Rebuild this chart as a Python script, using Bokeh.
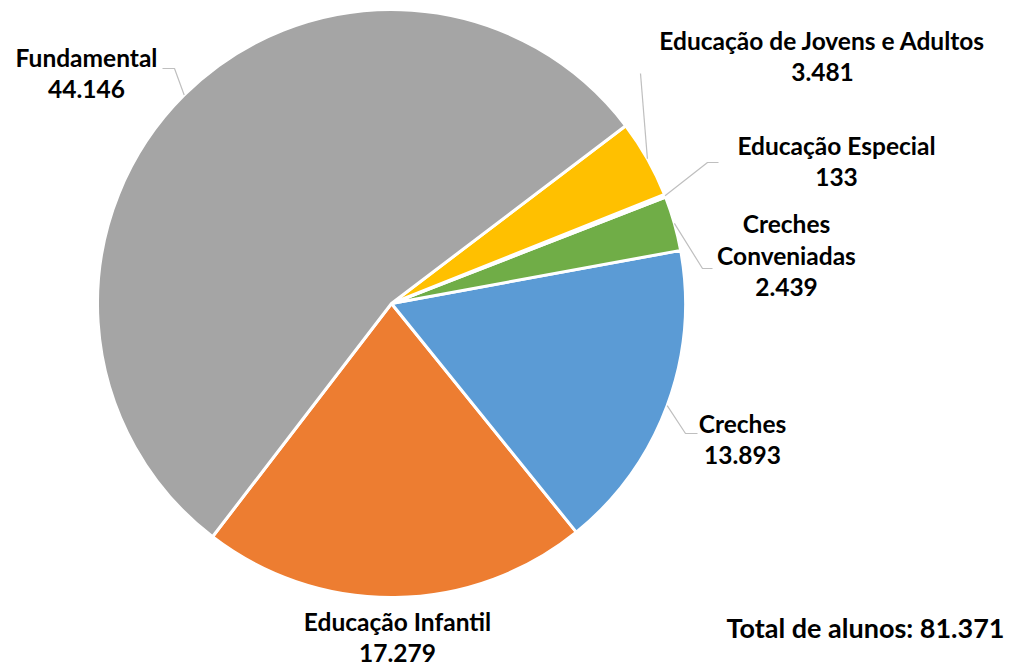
import math
from bokeh.plotting import figure
from bokeh.models import Range1d, ColumnDataSource
from bokeh.core.properties import value
from bokeh.embed import file_html
from bokeh.resources import INLINE

# ---- data ----
categories = ["Educação Infantil", "Creches", "Creches Conveniadas",
              "Educação Especial", "Educação de Jovens e Adultos", "Fundamental"]
values = [17279, 13893, 2439, 133, 3481, 44146]
label_lines = [["Educação Infantil"], ["Creches"], ["Creches", "Conveniadas"],
               ["Educação Especial"], ["Educação de Jovens e Adultos"], ["Fundamental"]]
colors = ["#ED7D31", "#5B9BD5", "#70AD47", "#4472C4", "#FFC000", "#A5A5A5"]
total_prefix = "Total de alunos: "

def fmt(v):
    return f"{v:,}".replace(",", ".")

# ---- layout (screen pixels of the page) ----
W, H = 1008, 668
def Y(ys):
    return 671 - ys

CX, CY, R = 391, 303, 294
START_DEG = 232.5
FONT = value("Lato")
FS, TS = 24.5, 27
LINE_GAP = 31.5
BASE_FIX = 0.4  # baseline correction (fraction of font size)

# label anchors: (center x, first baseline y)
label_pos = [(397, 631), (742, 433), (786, 233), (836, 155), (822, 50), (86, 67)]
# leader lines: list of points before reaching the pie edge (None = no leader)
leaders = [None,
           [(697, 433), (685, 433)],
           [(712, 268), (702, 268)],
           [(718, 162), (707, 162)],
           [(640, 73)],
           [(162, 68), (174, 68)]]

total = sum(values)
starts, ends, mids = [], [], []
acc = math.radians(START_DEG)
for v in values:
    a = 2 * math.pi * v / total
    starts.append(acc)
    ends.append(acc + a)
    mids.append(acc + a / 2)
    acc += a

p = figure(width=W, height=H, x_range=Range1d(0, W), y_range=Range1d(671 - H, 671),
           output_backend="svg", toolbar_location=None,
           x_axis_type=None, y_axis_type=None, min_border=0)
p.grid.visible = False
p.outline_line_color = None
p.background_fill_color = "white"
p.border_fill_color = "white"

src = ColumnDataSource(dict(cat=categories, val=values, start=starts, end=ends, color=colors))
p.wedge(x=CX, y=Y(CY), radius=R, start_angle="start", end_angle="end",
        direction="anticlock", fill_color="color", line_color="white", line_width=3,
        source=src)

# leader lines
lx, ly = [], []
for pts, m in zip(leaders, mids):
    if pts is None:
        continue
    ex = CX + R * math.cos(m)
    ey = Y(CY) + R * math.sin(m)
    lx.append([x for x, _ in pts] + [ex])
    ly.append([Y(y) for _, y in pts] + [ey])
p.multi_line(xs=lx, ys=ly, line_color="#BFBFBF", line_width=1.2)

# labels
tx, ty, tt = [], [], []
for (x0, y0), lines, v in zip(label_pos, label_lines, values):
    allines = lines + [fmt(v)]
    for i, t in enumerate(allines):
        tx.append(x0)
        ty.append(Y(y0 + i * LINE_GAP - BASE_FIX * FS))
        tt.append(t)

p.text(x=tx, y=ty, text=tt, text_font=FONT, text_font_size=value(f"{FS}px"),
       text_font_style="bold", text_align="center", text_baseline="alphabetic",
       text_color="#000000")
p.text(x=[865], y=[Y(638 - BASE_FIX * TS)], text=[total_prefix + fmt(total)], text_font=FONT,
       text_font_size=value(f"{TS}px"), text_font_style="bold", text_align="center",
       text_baseline="alphabetic", text_color="#000000")

open("out.html", "w").write(file_html(p, INLINE))
